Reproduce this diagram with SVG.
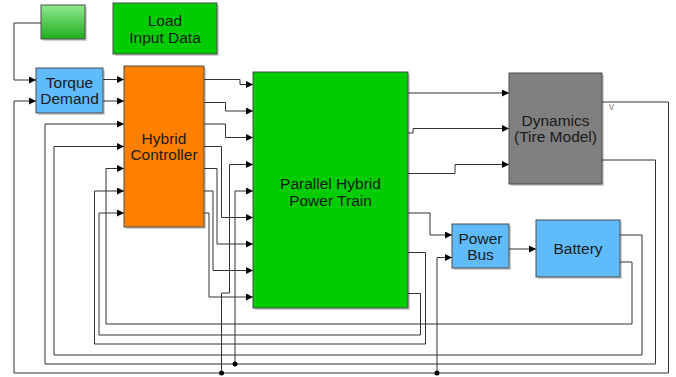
<svg xmlns="http://www.w3.org/2000/svg" width="676" height="377" viewBox="0 0 676 377">
<style>
.blk{stroke:#4d4d4d;stroke-width:1}
.sh{fill:#000;opacity:0.18}
.t{font-family:"Liberation Sans",Arial,sans-serif;font-size:15.5px;fill:#1a1a1a;text-anchor:middle}
.w{fill:none;stroke:#333;stroke-width:1}
.a{marker-end:url(#ar)}
</style>
<defs>
<marker id="ar" markerUnits="userSpaceOnUse" markerWidth="7" markerHeight="7" refX="7" refY="3.5" orient="auto">
<path d="M0,0 L7,3.5 L0,7 z" fill="#000"/>
</marker>
<linearGradient id="gg" x1="0" y1="0" x2="0" y2="1">
<stop offset="0" stop-color="#8fe88f"/>
<stop offset="1" stop-color="#1fae1f"/>
</linearGradient>
</defs>
<rect width="676" height="377" fill="#fff"/>
<g id="connectors">
<path class="w a" d="M41,23 H14 V80 H36"/>
<path class="w a" d="M103,79.5 H124"/>
<path class="w a" d="M103,101 H124"/>
<path class="w a" d="M204,79.5 H240 V84.5 H253"/>
<path class="w a" d="M204,102.5 H225.5 V111 H253"/>
<path class="w a" d="M204,124 H225.5 V137.5 H253"/>
<path class="w a" d="M204,146.5 H221.5 V217.5 H253"/>
<path class="w a" d="M204,168.5 H217 V244 H253"/>
<path class="w a" d="M204,191 H213 V270.5 H253"/>
<path class="w a" d="M204,213 H209 V297 H253"/>
<path class="w a" d="M408,93 H509"/>
<path class="w a" d="M408,133 H413 V128.5 H509"/>
<path class="w a" d="M408,173.5 H455 V164.5 H509"/>
<path class="w a" d="M408,213 H430 V235 H452"/>
<path class="w a" d="M509,249 H536"/>
<path class="w a" d="M602,102 H668.5 V373 H14 V101 H36"/>
<path class="w a" d="M221.5,373 V293 H229.5 V164.5 H253"/>
<path class="w a" d="M437,373 V257.5 H452"/>
<path class="w a" d="M602,160 H655.5 V364 H45 V124 H124"/>
<path class="w a" d="M235,364 V191 H253"/>
<path class="w a" d="M620,235 H642 V355 H54 V146.5 H124"/>
<path class="w a" d="M620,262 H632 V324 H106 V168.5 H124"/>
<path class="w a" d="M408,252.5 H425.5 V344 H94.5 V191 H124"/>
<path class="w a" d="M408,293.5 H420.5 V335 H99 V213 H124"/>
<circle cx="221.5" cy="373" r="2.5" fill="#000"/>
<circle cx="235" cy="364" r="2.5" fill="#000"/>
<circle cx="437" cy="373" r="2.5" fill="#000"/>
</g>
<g id="source">
<rect class="sh" x="43" y="7" width="44" height="34"/>
<rect class="blk" x="41" y="5" width="44" height="34" fill="url(#gg)"/>
</g>
<g id="load">
<rect class="sh" x="115" y="5" width="104" height="51"/>
<rect class="blk" x="113" y="3" width="104" height="51" fill="#00cc00"/>
<text class="t" x="165" y="26">Load</text>
<text class="t" x="165" y="43">Input Data</text>
</g>
<g id="torque">
<rect class="sh" x="38" y="70" width="67" height="45"/>
<rect class="blk" x="36" y="68" width="67" height="45" fill="#5fbbfa"/>
<text class="t" x="69.5" y="87.5">Torque</text>
<text class="t" x="69.5" y="104">Demand</text>
</g>
<g id="controller">
<rect class="sh" x="126" y="68" width="80" height="161"/>
<rect class="blk" x="124" y="66" width="80" height="161" fill="#ff8000"/>
<text class="t" x="164" y="144">Hybrid</text>
<text class="t" x="164" y="160">Controller</text>
</g>
<g id="powertrain">
<rect class="sh" x="255" y="74" width="155" height="236"/>
<rect class="blk" x="253" y="72" width="155" height="236" fill="#00cc00"/>
<text class="t" x="330.5" y="189">Parallel Hybrid</text>
<text class="t" x="330.5" y="206">Power Train</text>
</g>
<g id="dynamics">
<rect class="sh" x="511" y="75" width="93" height="111"/>
<rect class="blk" x="509" y="73" width="93" height="111" fill="#808080"/>
<text class="t" x="555.5" y="126">Dynamics</text>
<text class="t" x="555.5" y="142">(Tire Model)</text>
<text x="609" y="110" style="font-family:'Liberation Sans',Arial,sans-serif;font-size:10px;fill:#808080">v</text>
</g>
<g id="powerbus">
<rect class="sh" x="454" y="226" width="57" height="44"/>
<rect class="blk" x="452" y="224" width="57" height="44" fill="#5fbbfa"/>
<text class="t" x="480.5" y="243.5">Power</text>
<text class="t" x="480.5" y="260">Bus</text>
</g>
<g id="battery">
<rect class="sh" x="538" y="222" width="84" height="57"/>
<rect class="blk" x="536" y="220" width="84" height="57" fill="#5fbbfa"/>
<text class="t" x="578" y="254">Battery</text>
</g>
</svg>
